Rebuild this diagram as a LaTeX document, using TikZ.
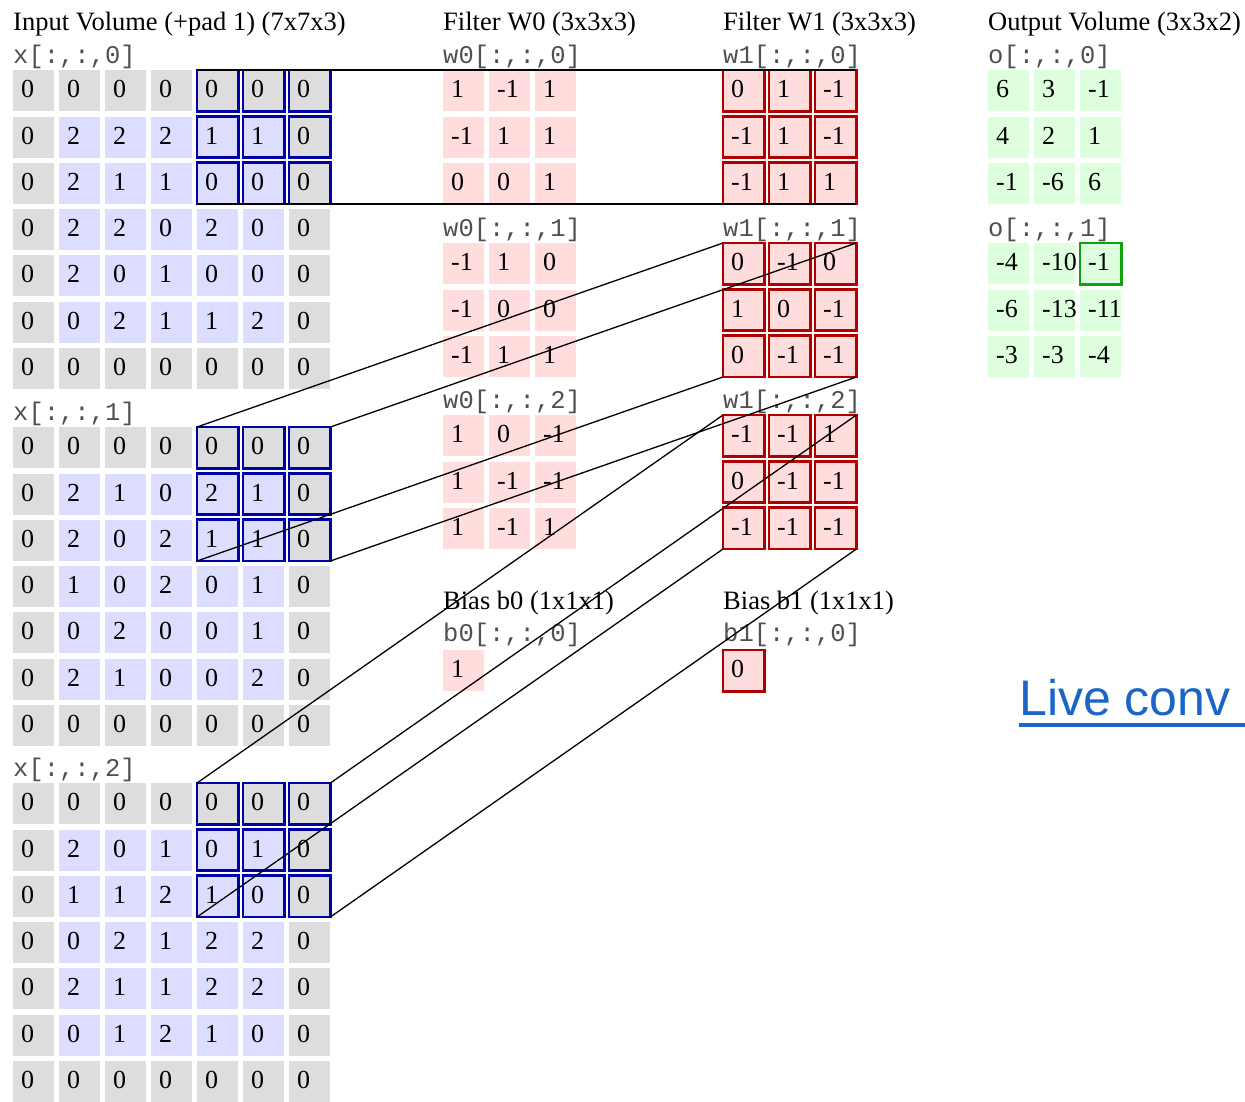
\documentclass[tikz,border=0pt]{standalone}
\usepackage{fontspec}
\setmainfont{Liberation Serif}
\setsansfont{Liberation Sans}
\setmonofont{Liberation Mono}
\usepackage{xcolor}
\usetikzlibrary{positioning, calc}

\definecolor{padgray}{HTML}{DDDDDD}
\definecolor{inblue}{HTML}{DDDDFF}
\definecolor{wpink}{HTML}{FFDDDD}
\definecolor{outgreen}{HTML}{DDFFDD}
\definecolor{frameblue}{HTML}{0000A8}
\definecolor{framered}{HTML}{B00000}
\definecolor{framegreen}{HTML}{10A010}
\definecolor{labelgray}{HTML}{505050}
\definecolor{linkblue}{HTML}{1A66C8}

\tikzset{
    cell/.style={anchor=north west, minimum width=41pt, minimum height=41pt,
        text width=25pt, align=left, inner xsep=8pt, inner ysep=0pt,
        text height=18pt, text depth=4pt, font=\fontsize{26}{30}\selectfont},
    title/.style={anchor=base west, inner sep=0pt, font=\fontsize{26.5}{30}\selectfont},
    slicelbl/.style={anchor=base west, inner sep=0pt, text=labelgray,
        font=\ttfamily\fontsize{25.5}{28}\selectfont},
    bluebox/.style={draw=frameblue, line width=2.5pt},
    redbox/.style={draw=framered, line width=2.5pt},
    greenbox/.style={draw=framegreen, line width=2.5pt},
    wire/.style={black, line width=1.3pt},
}

% small grid: name, left, top, fill, rows
\newcommand{\cellgrid}[5]{%
    \foreach \row [count=\ri from 0] in {#5} {
        \foreach \v [count=\ci from 0] in \row {
            \node[cell, fill=#4] (#1-\ri-\ci) at ({#2+46*\ci}, {#3+46.3*\ri}) {\mbox{\v}};
        }
    }
}

% 7x7 input slice with zero padding: name, top, rows
\newcommand{\inputslice}[3]{%
    \foreach \row [count=\ri from 0] in {#3} {
        \foreach \v [count=\ci from 0] in \row {
            \pgfmathtruncatemacro\ispad{or(or(\ri==0,\ri==6),or(\ci==0,\ci==6))}
            \ifnum\ispad=1 \def\cellcol{padgray}\else\def\cellcol{inblue}\fi
            \node[cell, fill=\cellcol] (#1-\ri-\ci) at ({13+46*\ci}, {#2+46.3*\ri}) {\v};
        }
    }
}

\begin{document}
\begin{tikzpicture}[x=1pt, y=-1pt]
    \useasboundingbox (0,0) rectangle (1245,1101);
    \clip (0,0) rectangle (1245,1101);

    % input volume
    \node[title] (intitle) at (13,30) {Input Volume (+pad 1) (7x7x3)};
    \inputslice{x0}{70}{{0,0,0,0,0,0,0},{0,2,2,2,1,1,0},{0,2,1,1,0,0,0},{0,2,2,0,2,0,0},{0,2,0,1,0,0,0},{0,0,2,1,1,2,0},{0,0,0,0,0,0,0}}
    \inputslice{x1}{427}{{0,0,0,0,0,0,0},{0,2,1,0,2,1,0},{0,2,0,2,1,1,0},{0,1,0,2,0,1,0},{0,0,2,0,0,1,0},{0,2,1,0,0,2,0},{0,0,0,0,0,0,0}}
    \inputslice{x2}{783}{{0,0,0,0,0,0,0},{0,2,0,1,0,1,0},{0,1,1,2,1,0,0},{0,0,2,1,2,2,0},{0,2,1,1,2,2,0},{0,0,1,2,1,0,0},{0,0,0,0,0,0,0}}
    \foreach \d in {0,1,2} {
        \node[slicelbl] (xlbl\d) at ([yshift=7pt]x\d-0-0.north west) {x[:,:,\d]};
    }

    % filter W0
    \node[title] (w0title) at (443,30) {Filter W0 (3x3x3)};
    \cellgrid{w0s0}{443}{70}{wpink}{{1,-1,1},{-1,1,1},{0,0,1}}
    \cellgrid{w0s1}{443}{243}{wpink}{{-1,1,0},{-1,0,0},{-1,1,1}}
    \cellgrid{w0s2}{443}{415}{wpink}{{1,0,-1},{1,-1,-1},{1,-1,1}}
    \foreach \d in {0,1,2} {
        \node[slicelbl] (w0lbl\d) at ([yshift=7pt]w0s\d-0-0.north west) {w0[:,:,\d]};
    }

    % filter W1
    \node[title] (w1title) at (723,30) {Filter W1 (3x3x3)};
    \cellgrid{w1s0}{723}{70}{wpink}{{0,1,-1},{-1,1,-1},{-1,1,1}}
    \cellgrid{w1s1}{723}{243}{wpink}{{0,-1,0},{1,0,-1},{0,-1,-1}}
    \cellgrid{w1s2}{723}{415}{wpink}{{-1,-1,1},{0,-1,-1},{-1,-1,-1}}
    \foreach \d in {0,1,2} {
        \node[slicelbl] (w1lbl\d) at ([yshift=7pt]w1s\d-0-0.north west) {w1[:,:,\d]};
    }

    % biases
    \node[title] (b0title) at (443,609) {Bias b0 (1x1x1)};
    \node[title] (b1title) at (723,609) {Bias b1 (1x1x1)};
    \cellgrid{b0}{443}{650}{wpink}{{1}}
    \cellgrid{b1}{723}{650}{wpink}{{0}}
    \node[slicelbl] (b0lbl) at ([yshift=9pt]b0-0-0.north west) {b0[:,:,0]};
    \node[slicelbl] (b1lbl) at ([yshift=9pt]b1-0-0.north west) {b1[:,:,0]};

    % output volume
    \node[title] (outtitle) at (988,30) {Output Volume (3x3x2)};
    \cellgrid{o0}{988}{70}{outgreen}{{6,3,-1},{4,2,1},{-1,-6,6}}
    \cellgrid{o1}{988}{243}{outgreen}{{-4,-10,-1},{-6,-13,-11},{-3,-3,-4}}
    \foreach \d in {0,1} {
        \node[slicelbl] (olbl\d) at ([yshift=7pt]o\d-0-0.north west) {o[:,:,\d]};
    }

    % highlighted cells
    \foreach \d in {0,1,2} {
        \foreach \ri in {0,1,2} {
            \foreach \ci in {4,5,6} {
                \draw[bluebox] (x\d-\ri-\ci.north west) rectangle (x\d-\ri-\ci.south east);
            }
            \foreach \ci in {0,1,2} {
                \draw[redbox] (w1s\d-\ri-\ci.north west) rectangle (w1s\d-\ri-\ci.south east);
            }
        }
    }
    \draw[redbox] (b1-0-0.north west) rectangle (b1-0-0.south east);
    \draw[greenbox] (o1-0-2.north west) rectangle (o1-0-2.south east);

    % receptive field to filter
    \foreach \d in {0,1,2} {
        \draw[wire] (x\d-0-4.north west) -- (w1s\d-0-0.north west);
        \draw[wire] (x\d-0-6.north east) -- (w1s\d-0-2.north east);
        \draw[wire] (x\d-2-4.south west) -- (w1s\d-2-0.south west);
        \draw[wire] (x\d-2-6.south east) -- (w1s\d-2-2.south east);
    }

    % link
    \node[anchor=base west, inner sep=0pt, text=linkblue,
        font=\sffamily\fontsize{50}{56}\selectfont] (live) at (1019,715) {Live conv};
    \draw[linkblue, line width=3.2pt] ([yshift=-10pt]live.base west) -- ++(226,0);
\end{tikzpicture}
\end{document}
